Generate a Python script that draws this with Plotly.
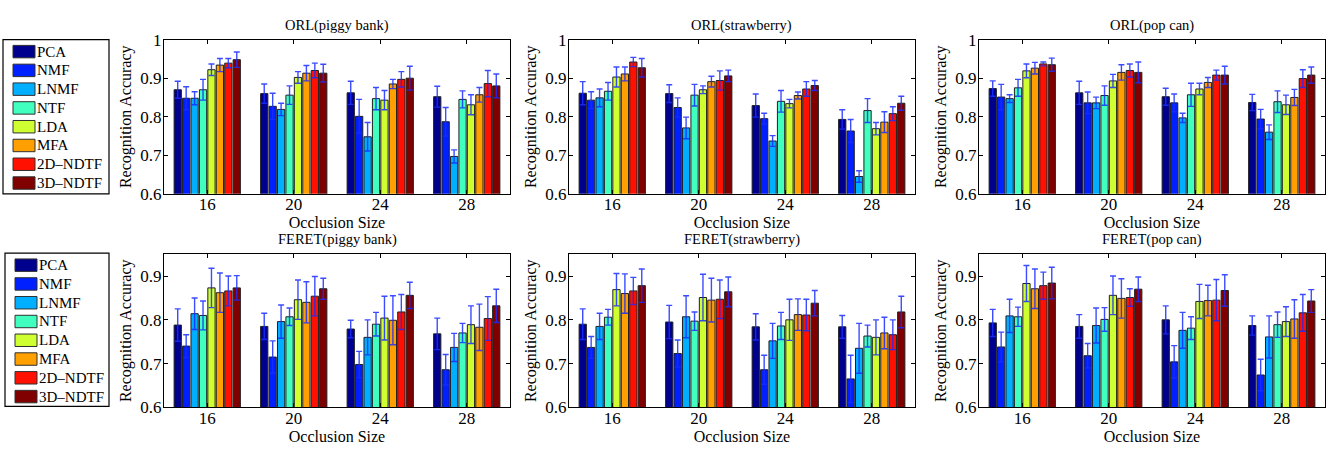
import plotly.graph_objects as go

W, H = 1328, 449

sizes = ['16', '20', '24', '28']
methods = ['PCA', 'NMF', 'LNMF', 'NTF', 'LDA', 'MFA', '2D–NDTF', '3D–NDTF']
colors = ['#00008F', '#0020FF', '#00AFFF', '#40FFBF', '#CFFF30', '#FF9F00', '#FF1000', '#800000']

# rows = methods (PCA..3D-NDTF), columns = occlusion sizes 16, 20, 24, 28
orl_piggy = [[.870, .860, .862, .852], [.848, .827, .801, .787], [.848, .819, .748, .697],
             [.870, .856, .847, .845], [.922, .902, .843, .831], [.934, .913, .885, .857],
             [.939, .920, .897, .886], [.948, .913, .900, .880]]
orl_piggy_err = [[.022, .025, .030, .027], [.030, .034, .044, .037], [.017, .016, .037, .017],
                 [.027, .024, .029, .022], [.015, .015, .025, .026], [.017, .020, .012, .019],
                 [.012, .019, .020, .034], [.020, .023, .031, .031]]

orl_straw = [[.861, .860, .829, .793], [.843, .824, .795, .763], [.849, .771, .737, .645],
             [.866, .856, .840, .816], [.903, .870, .834, .769], [.911, .891, .855, .786],
             [.942, .894, .872, .808], [.927, .906, .881, .835]]
orl_straw_err = [[.030, .023, .030, .025], [.022, .025, .014, .030], [.023, .028, .014, .015],
                 [.023, .028, .028, .031], [.026, .010, .011, .016], [.018, .014, .009, .027],
                 [.012, .025, .019, .018], [.024, .015, .013, .018]]

orl_pop = [[.873, .862, .852, .837], [.851, .836, .836, .794], [.847, .836, .797, .760],
           [.875, .855, .857, .839], [.919, .893, .872, .831], [.926, .915, .889, .850],
           [.937, .920, .908, .899], [.935, .915, .908, .908]]
orl_pop_err = [[.020, .030, .022, .021], [.033, .028, .023, .025], [.010, .015, .012, .019],
               [.022, .025, .030, .028], [.018, .017, .015, .025], [.015, .020, .013, .021],
               [.005, .017, .013, .023], [.017, .027, .023, .021]]

feret_piggy = [[.788, .785, .779, .768], [.740, .715, .698, .686], [.814, .796, .760, .737],
               [.810, .807, .790, .770], [.873, .846, .804, .789], [.862, .840, .799, .783],
               [.866, .854, .818, .803], [.873, .871, .856, .832]]
feret_piggy_err = [[.037, .030, .020, .036], [.026, .037, .030, .035], [.036, .038, .040, .032],
                   [.033, .020, .027, .022], [.045, .045, .050, .043], [.045, .047, .056, .053],
                   [.034, .045, .040, .050], [.028, .024, .030, .038]]

feret_straw = [[.790, .795, .784, .784], [.737, .723, .686, .665], [.785, .807, .752, .735],
               [.806, .797, .786, .763], [.869, .851, .800, .760], [.860, .845, .812, .770],
               [.866, .847, .811, .766], [.878, .864, .838, .818]]
feret_straw_err = [[.035, .038, .030, .026], [.025, .031, .033, .054], [.030, .048, .040, .057],
                   [.018, .021, .031, .025], [.037, .053, .047, .040], [.045, .050, .036, .036],
                   [.031, .044, .036, .034], [.038, .034, .029, .036]]

feret_pop = [[.793, .785, .800, .787], [.738, .718, .704, .674], [.809, .787, .776, .761],
             [.807, .801, .781, .789], [.883, .856, .842, .796], [.871, .849, .844, .802],
             [.878, .851, .845, .816], [.884, .870, .867, .843]]
feret_pop_err = [[.031, .027, .032, .022], [.034, .028, .037, .036], [.038, .040, .041, .048],
                 [.022, .027, .026, .029], [.041, .044, .039, .034], [.045, .045, .035, .044],
                 [.031, .020, .047, .042], [.036, .028, .036, .026]]

titles = ['ORL(piggy bank)', 'ORL(strawberry)', 'ORL(pop can)',
          'FERET(piggy bank)', 'FERET(strawberry)', 'FERET(pop can)']
panels = [(orl_piggy, orl_piggy_err), (orl_straw, orl_straw_err), (orl_pop, orl_pop_err),
          (feret_piggy, feret_piggy_err), (feret_straw, feret_straw_err), (feret_pop, feret_pop_err)]
y_ranges = [[0.6, 1.0]] * 3 + [[0.6, 0.95]] * 3
y_ticks = [[0.6, 0.7, 0.8, 0.9, 1.0]] * 3 + [[0.6, 0.7, 0.8, 0.9]] * 3
y_ticktext = [['0.6', '0.7', '0.8', '0.9', '1']] * 3 + [['0.6', '0.7', '0.8', '0.9']] * 3

# layout geometry (pixels)
col_x = [(164, 510), (569, 915), (979, 1325)]
row_y = [(32, 193), (256, 416)]
legend_box = [(3, 109, 32, 193), (5, 109, 255, 415)]

FONT = 'Liberation Serif, Times New Roman, serif'

fig = go.Figure()
layout = dict(
    width=W, height=H, margin=dict(l=0, r=0, t=0, b=0),
    paper_bgcolor='white', plot_bgcolor='white',
    barmode='group', bargap=0.22, bargroupgap=0.14,
    showlegend=False, font=dict(family=FONT, size=16, color='black'),
)
annotations = []
shapes = []

for p in range(6):
    r, c = divmod(p, 3)
    idx = '' if p == 0 else str(p + 1)
    vals, errs = panels[p]
    for m in range(8):
        fig.add_trace(go.Bar(
            x=sizes, y=vals[m], name=methods[m],
            marker=dict(color=colors[m], line=dict(color='#202020', width=1)),
            error_y=dict(type='data', array=errs[m], visible=True,
                         color='rgba(25,45,255,0.85)', thickness=1.4, width=3),
            xaxis='x' + idx, yaxis='y' + idx, showlegend=False,
        ))
    x0, x1 = col_x[c]
    y0, y1 = row_y[r]
    layout['xaxis' + idx] = dict(
        domain=[x0 / W, x1 / W], anchor='y' + idx,
        type='category', range=[-0.5, 3.5],
        showline=True, linecolor='black', linewidth=1.2, mirror='ticks',
        ticks='inside', ticklen=4, tickcolor='black',
        showgrid=False, zeroline=False,
        tickfont=dict(family=FONT, size=17), ticklabelstandoff=-5,
        title=dict(text='Occlusion Size', font=dict(family=FONT, size=16), standoff=0),
    )
    layout['yaxis' + idx] = dict(
        domain=[1 - y1 / H, 1 - y0 / H], anchor='x' + idx,
        range=y_ranges[p], tickvals=y_ticks[p], ticktext=y_ticktext[p],
        showline=True, linecolor='black', linewidth=1.2, mirror='ticks',
        ticks='inside', ticklen=4, tickcolor='black',
        showgrid=False, zeroline=False,
        tickfont=dict(family=FONT, size=17), ticklabelstandoff=-2,
        title=dict(text='Recognition Accuracy', font=dict(family=FONT, size=16), standoff=4),
    )
    annotations.append(dict(
        text=titles[p], x=(x0 + x1) / 2 / W, y=1 - (y0 - 15) / H,
        xref='paper', yref='paper', xanchor='center', yanchor='middle',
        showarrow=False, font=dict(family=FONT, size=14.5),
    ))

# legend boxes (one per row), built from the method names and colours
for (lx0, lx1, ly0, ly1) in legend_box:
    shapes.append(dict(type='rect', xref='paper', yref='paper',
                       x0=lx0 / W, x1=lx1 / W, y0=1 - ly1 / H, y1=1 - ly0 / H,
                       line=dict(color='black', width=1.2), fillcolor='white'))
    for m in range(8):
        top = ly0 + 6 + m * 19.6
        shapes.append(dict(type='rect', xref='paper', yref='paper',
                           x0=(lx0 + 10) / W, x1=(lx0 + 32) / W,
                           y0=1 - (top + 13) / H, y1=1 - top / H,
                           line=dict(color='#303030', width=1), fillcolor=colors[m]))
        annotations.append(dict(
            text=methods[m], x=(lx0 + 32) / W, y=1 - (top + 6.5) / H,
            xref='paper', yref='paper', xanchor='left', yanchor='middle',
            showarrow=False, font=dict(family=FONT, size=15),
        ))

layout['annotations'] = annotations
layout['shapes'] = shapes
fig.update_layout(**layout)
fig.write_html('out.html', config={'displayModeBar': False},
               post_script="document.body.style.margin='0';document.body.style.overflow='hidden';")
